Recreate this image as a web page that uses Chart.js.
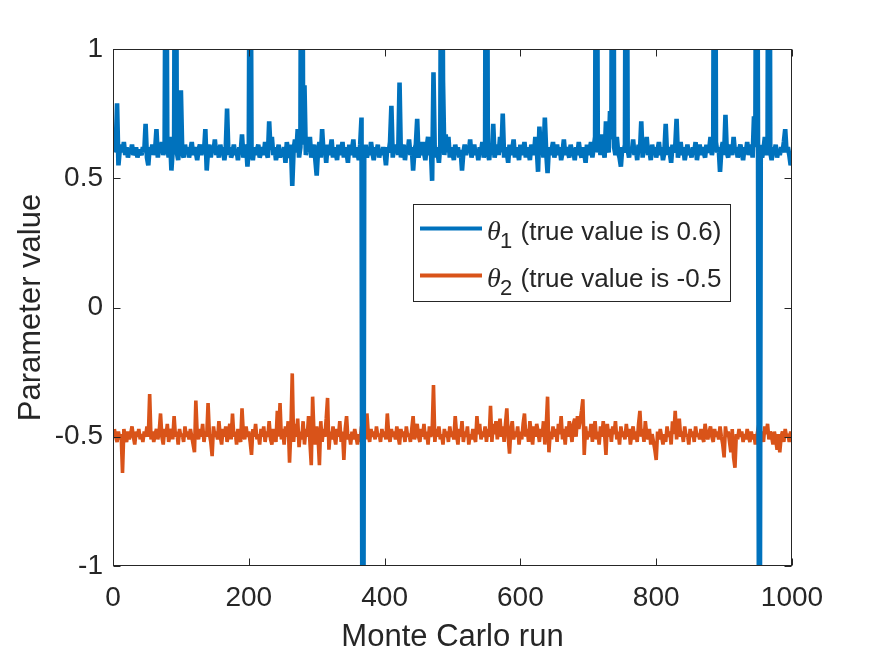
<!DOCTYPE html>
<html>
<head>
<meta charset="utf-8">
<script src="https://cdn.jsdelivr.net/npm/chart.js@4.4.1/dist/chart.umd.min.js"></script>
<style>
  html, body { margin: 0; padding: 0; background: #ffffff; }
  canvas { display: block; }
</style>
</head>
<body>
<canvas id="c" width="875" height="657" style="width:875px;height:657px"></canvas>
<script>
// ---- Data (one value every 2 Monte Carlo runs: 2,4,...,1000) ----
const theta1 = [
  .60,.62,.79,.55,.61,.63,.60,.64,.59,.62,.58,.61,.60,.63,.59,.60,.62,.58,.61,.60,.59,.62,.60,.71,.58,
  .55,.62,.60,.63,.59,.61,.69,.58,.62,.60,.64,.59,.61,1.9,.62,.58,.66,.53,.61,.63,2.4,.60,.57,.64,.84,
  .60,.58,.63,.60,.62,.58,.61,.64,.59,.62,.60,.57,.61,.63,.59,.62,.60,.69,.53,.61,.63,.58,.62,.60,.65,
  .59,.61,.58,.63,.60,.62,.57,.61,.77,.59,.62,.58,.60,.63,.59,.61,.57,.62,.60,.67,.58,.61,.63,.545,.62,
  2.1,.60,.57,.62,.59,.61,.63,.58,.60,.62,.59,.64,.60,.58,.72,.61,.66,.59,.62,.57,.60,.63,.58,.61,.59,
  .62,.56,.64,.60,.58,.63,.47,.61,.65,.60,.69,.58,.62,2.6,.63,.86,.59,.62,.60,.66,.58,.61,.63,.57,.51,
  .61,.64,.58,.69,.60,.62,.56,.63,.59,.61,.65,.58,.62,.60,.57,.63,.59,.61,.64,.58,.62,.60,.56,.63,.59,
  .61,.65,.58,.62,.60,.57,.63,.735,-2.5,.60,.63,.58,.61,.59,.64,.60,.57,.62,.60,.63,.58,.61,.59,.62,.60,
  .55,.62,.60,.64,.78,.58,.62,.60,.63,.59,.87,.58,.61,.63,.57,.62,.60,.65,.59,.62,.53,.61,.63,.73,.58,
  .61,.59,.64,.60,.57,.62,.66,.59,.62,.49,.91,.58,.62,.60,.56,.63,2.2,.88,.59,.67,.60,.66,.58,.62,.60,
  .57,.63,.60,.62,.58,.61,.53,.60,.63,.59,.62,.60,.65,.58,.61,.63,.59,.61,.57,.62,.60,.64,.58,.61,2.8,
  .60,.57,.63,.59,.71,.58,.61,.63,.59,.66,.60,.75,.58,.62,.60,.56,.63,.59,.61,.65,.58,.62,.60,.57,.63,
  .59,.61,.64,.58,.62,.60,.57,.63,.61,.59,.66,.62,.525,.70,.60,.63,.58,.735,.60,.52,.62,.59,.61,.64,.58,
  .61,.63,.59,.62,.57,.60,.65,.59,.62,.60,.58,.63,.60,.61,.57,.62,.59,.64,.60,.58,.62,.60,.56,.63,.59,
  .61,.64,.58,.62,.66,2.3,.60,.63,.59,.67,.61,.58,.72,.62,.60,.76,.65,3.0,.62,.59,.66,.60,.58,.545,.62,
  .60,.63,2.5,.61,.58,.62,.60,.65,.59,.62,.57,.63,.60,.72,.58,.62,.60,.66,.59,.61,.57,.63,.60,.62,.58,
  .61,.64,.59,.62,.57,.60,.71,.59,.62,.60,.56,.63,.60,.62,.73,.58,.61,.64,.59,.62,.57,.60,.63,.59,.61,
  .58,.62,.60,.64,.57,.61,.63,.59,.62,.60,.58,.63,.60,.61,.66,.59,.62,2.7,.64,.60,.62,.525,.61,.64,.59,
  .745,.60,.58,.63,.61,.59,.66,.60,.62,.58,.61,.63,.60,.57,.62,.60,.64,.59,.61,.63,.58,.74,.62,2.4,.60,
  -2.2,.63,.58,.61,.66,.59,.62,2.9,.60,.57,.62,.60,.63,.58,.61,.59,.62,.60,.64,.69,.60,.62,.59,.55,.57
];
const theta2 = [
  -.47,-.50,-.52,-.48,-.51,-.49,-.64,-.47,-.50,-.52,-.48,-.51,-.49,-.46,-.50,-.53,-.48,-.50,-.47,-.51,-.49,-.52,-.48,-.50,-.46,
  -.50,-.335,-.51,-.48,-.52,-.49,-.47,-.51,-.48,-.41,-.50,-.53,-.47,-.50,-.45,-.52,-.49,-.47,-.51,-.42,-.50,-.48,-.53,-.47,-.50,
  -.49,-.52,-.46,-.50,-.48,-.51,-.47,-.50,-.53,-.56,-.36,-.49,-.51,-.47,-.50,-.45,-.52,-.48,-.50,-.37,-.49,-.52,-.575,-.46,-.50,
  -.48,-.51,-.44,-.50,-.53,-.47,-.50,-.46,-.52,-.49,-.45,-.51,-.41,-.50,-.48,-.53,-.47,-.50,-.52,-.39,-.49,-.51,-.46,-.50,-.48,
  -.52,-.57,-.47,-.50,-.45,-.51,-.49,-.53,-.47,-.50,-.46,-.52,-.48,-.50,-.44,-.51,-.53,-.47,-.49,-.52,-.40,-.50,-.37,-.51,-.47,
  -.53,-.46,-.50,-.44,-.60,-.47,-.255,-.52,-.45,-.50,-.43,-.54,-.48,-.51,-.44,-.53,-.47,-.50,-.42,-.52,-.61,-.345,-.49,-.53,-.46,
  -.50,-.61,-.44,-.52,-.47,-.50,-.43,-.35,-.55,-.48,-.51,-.46,-.50,-.53,-.47,-.50,-.44,-.52,-.48,-.59,-.47,-.42,-.51,-.49,-.53,
  -.48,-.51,-.47,-.50,-.53,-.49,-.52,-.46,-.50,-.47,-.51,-.41,-.49,-.52,-.47,-.50,-.48,-.51,-.46,-.50,-.49,-.52,-.47,-.50,-.48,
  -.51,-.41,-.49,-.52,-.47,-.50,-.48,-.51,-.46,-.50,-.53,-.47,-.50,-.48,-.52,-.46,-.50,-.49,-.52,-.47,-.42,-.51,-.49,-.45,-.50,
  -.52,-.47,-.50,-.45,-.51,-.48,-.53,-.46,-.50,-.48,-.30,-.52,-.47,-.50,-.46,-.51,-.49,-.53,-.47,-.50,-.48,-.52,-.46,-.50,-.48,
  -.51,-.42,-.49,-.53,-.47,-.50,-.44,-.52,-.48,-.50,-.46,-.53,-.49,-.51,-.47,-.50,-.52,-.42,-.49,-.45,-.51,-.48,-.50,-.46,-.52,
  -.47,-.50,-.38,-.52,-.45,-.49,-.44,-.51,-.47,-.43,-.50,-.46,-.52,-.45,-.39,-.50,-.565,-.47,-.44,-.51,-.48,-.50,-.46,-.53,-.48,
  -.51,-.45,-.41,-.50,-.47,-.52,-.44,-.49,-.53,-.46,-.50,-.45,-.48,-.52,-.47,-.50,-.44,-.53,-.46,-.345,-.56,-.48,-.51,-.46,-.50,
  -.47,-.52,-.45,-.49,-.42,-.51,-.47,-.53,-.46,-.50,-.44,-.48,-.52,-.45,-.43,-.50,-.42,-.47,-.44,-.40,-.355,-.57,-.46,-.51,-.48,
  -.50,-.45,-.52,-.47,-.44,-.51,-.48,-.53,-.46,-.50,-.44,-.49,-.57,-.45,-.50,-.47,-.52,-.46,-.49,-.44,-.51,-.48,-.53,-.46,-.50,
  -.48,-.51,-.45,-.50,-.47,-.53,-.49,-.46,-.51,-.48,-.52,-.45,-.40,-.50,-.47,-.52,-.44,-.49,-.51,-.47,-.53,-.49,-.52,-.55,-.59,
  -.48,-.51,-.47,-.50,-.53,-.49,-.52,-.46,-.50,-.48,-.53,-.44,-.49,-.40,-.51,-.47,-.43,-.50,-.48,-.52,-.46,-.50,-.49,-.53,-.47,
  -.50,-.48,-.52,-.46,-.50,-.49,-.51,-.47,-.50,-.52,-.45,-.49,-.51,-.48,-.46,-.50,-.52,-.47,-.50,-.48,-.51,-.46,-.50,-.53,-.58,
  -.46,-.50,-.48,-.52,-.56,-.47,-.58,-.62,-.49,-.51,-.47,-.50,-.48,-.52,-.49,-.51,-.47,-.50,-.52,-.48,-.51,-.49,-.53,-.50,-.47,
  -.44,-.50,-.48,-.52,-.46,-.49,-.45,-.51,-.48,-.50,-.53,-.48,-.51,-.55,-.49,-.56,-.50,-.48,-.52,-.47,-.50,-.49,-.52,-.48,-.50
];
// Monte Carlo run index of each value
const runs = Array.from({ length: theta1.length }, (_, i) => 2 * (i + 1));

const xTicks = [0, 200, 400, 600, 800, 1000];
const yTicks = [-1, -0.5, 0, 0.5, 1];
const xTitle = 'Monte Carlo run';
const yTitle = 'Parameter value';
const legendSymbols = ['θ', 'θ'];
const legendSubs = ['1', '2'];
const legendTexts = ['(true value is 0.6)', '(true value is -0.5'];

// ---- Styling ----
const FONT = '"Liberation Sans", Arial, Helvetica, sans-serif';
const INK = '#262626';
const COLORS = ['#0072BD', '#D95319'];
const WIDTHS = [4.6, 3.6];

const toPoints = vals => vals.map((v, i) => ({ x: runs[i], y: v }));

const matlabAxes = {
  id: 'matlabAxes',
  afterDatasetsDraw(chart) {
    const { ctx, chartArea: a, scales: { x, y } } = chart;
    ctx.save();
    ctx.strokeStyle = INK;
    ctx.lineWidth = 1;
    const L = Math.round(a.left) + 0.5, R = Math.round(a.right) - 0.5;
    const T = Math.round(a.top) + 0.5, B = Math.round(a.bottom) - 0.5;
    ctx.strokeRect(L, T, R - L, B - T);
    const tl = 7;
    ctx.beginPath();
    xTicks.forEach(v => {
      const px = Math.round(x.getPixelForValue(v)) + 0.5;
      ctx.moveTo(px, B); ctx.lineTo(px, B - tl);
      ctx.moveTo(px, T); ctx.lineTo(px, T + tl);
    });
    yTicks.forEach(v => {
      const py = Math.round(y.getPixelForValue(v)) + 0.5;
      ctx.moveTo(L, py); ctx.lineTo(L + tl, py);
      ctx.moveTo(R, py); ctx.lineTo(R - tl, py);
    });
    ctx.stroke();
    ctx.restore();
  }
};

const insideLegend = {
  id: 'insideLegend',
  afterDraw(chart) {
    const { ctx } = chart;
    const box = { l: 413.5, t: 204.5, r: 730.5, b: 301.5 };
    ctx.save();
    ctx.fillStyle = '#ffffff';
    ctx.fillRect(box.l, box.t, box.r - box.l, box.b - box.t);
    ctx.strokeStyle = INK;
    ctx.lineWidth = 1;
    ctx.strokeRect(box.l, box.t, box.r - box.l, box.b - box.t);
    chart.data.datasets.forEach((ds, i) => {
      const cy = 228.5 + i * 47;
      const base = cy + 11;
      ctx.strokeStyle = ds.borderColor;
      ctx.lineWidth = 4;
      ctx.beginPath();
      ctx.moveTo(420, cy); ctx.lineTo(482, cy);
      ctx.stroke();
      ctx.fillStyle = INK;
      ctx.textBaseline = 'alphabetic';
      ctx.textAlign = 'left';
      ctx.font = 'italic 28px "Liberation Serif", "DejaVu Serif", serif';
      ctx.fillText(legendSymbols[i], 487, base);
      ctx.font = '22px ' + FONT;
      ctx.fillText(legendSubs[i], 500, base + 8.5);
      ctx.font = '26px ' + FONT;
      ctx.fillText(legendTexts[i], 520.5, base);
    });
    ctx.restore();
  }
};

new Chart(document.getElementById('c'), {
  type: 'line',
  data: {
    datasets: [
      { label: legendSymbols[0] + legendSubs[0] + ' ' + legendTexts[0], data: toPoints(theta1),
        borderColor: COLORS[0], backgroundColor: COLORS[0], borderWidth: WIDTHS[0], clip: 0 },
      { label: legendSymbols[1] + legendSubs[1] + ' ' + legendTexts[1], data: toPoints(theta2),
        borderColor: COLORS[1], backgroundColor: COLORS[1], borderWidth: WIDTHS[1], clip: 0 }
    ]
  },
  options: {
    responsive: false,
    animation: false,
    devicePixelRatio: 1,
    layout: { padding: { top: 49, right: 83, left: 0, bottom: 0 } },
    elements: {
      point: { radius: 0, hoverRadius: 0 },
      line: { tension: 0, borderJoinStyle: 'bevel', borderCapStyle: 'butt', fill: false }
    },
    plugins: { legend: { display: false }, tooltip: { enabled: false } },
    events: [],
    scales: {
      x: {
        type: 'linear', min: 0, max: 1000,
        afterBuildTicks: s => { s.ticks = xTicks.map(v => ({ value: v })); },
        ticks: { color: INK, font: { family: FONT, size: 28 }, padding: 15, maxRotation: 0, autoSkip: false,
                 callback: v => String(v) },
        grid: { display: false, drawTicks: false },
        border: { display: false },
        title: { display: true, text: xTitle, color: INK, font: { family: FONT, size: 31 }, padding: { top: 0, bottom: 1 } },
        afterFit: s => { s.height = 91; }
      },
      y: {
        type: 'linear', min: -1, max: 1,
        afterBuildTicks: s => { s.ticks = yTicks.map(v => ({ value: v })); },
        ticks: { color: INK, font: { family: FONT, size: 28 }, padding: 10, autoSkip: false,
                 callback: v => String(v) },
        grid: { display: false, drawTicks: false },
        border: { display: false },
        title: { display: true, text: yTitle, color: INK, font: { family: FONT, size: 31 }, padding: { top: 13, bottom: 0 } },
        afterFit: s => { s.width = 113; }
      }
    }
  },
  plugins: [matlabAxes, insideLegend]
});
</script>
</body>
</html>
